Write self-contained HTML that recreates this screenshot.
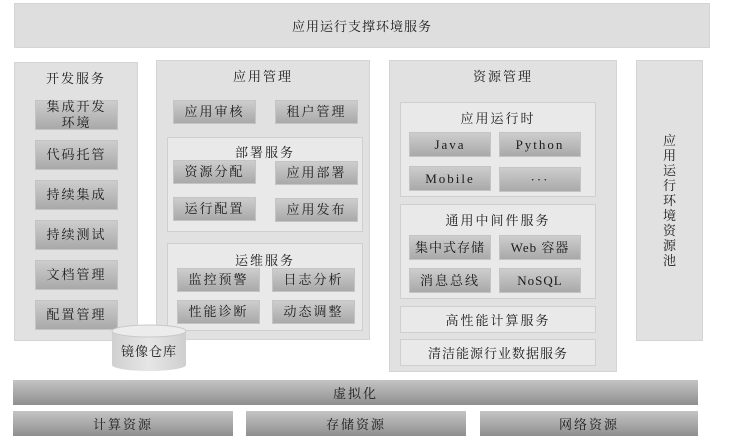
<!DOCTYPE html>
<html><head><meta charset="utf-8"><style>
body{margin:0;width:733px;height:445px;background:#fff;position:relative;overflow:hidden;font-family:"Liberation Serif","Noto Serif CJK SC",serif;color:#1a1a1a}
div{position:absolute;box-sizing:border-box}
.p{background:#e1e1e1;border:1px solid #d4d4d4}
.s{background:#e9e9e9;border:1px solid #cfcfcf}
.i{background:linear-gradient(#cdcdcd,#a9a9a9);border:1px solid #c4c4c4;display:flex;align-items:center;justify-content:center;font-size:13px;letter-spacing:2px;text-align:center;line-height:16px}
.t{font-size:13px;text-align:center;letter-spacing:2px;width:100%;left:0}
.b{background:linear-gradient(#c4c4c4,#8f8f8f);display:flex;align-items:center;justify-content:center;font-size:13px;letter-spacing:2px}
</style></head><body>
<div class="p" style="left:14px;top:3px;width:696px;height:45px;display:flex;align-items:center;justify-content:center;font-size:13px;letter-spacing:1px;background:#dedede">应用运行支撑环境服务</div>

<div class="p" style="left:14px;top:62px;width:124px;height:279px"><div class="t" style="top:5px">开发服务</div></div>
<div class="i" style="left:35px;top:100px;width:83px;height:30px">集成开发<br>环境</div>
<div class="i" style="left:35px;top:140px;width:83px;height:30px">代码托管</div>
<div class="i" style="left:35px;top:180px;width:83px;height:30px">持续集成</div>
<div class="i" style="left:35px;top:220px;width:83px;height:30px">持续测试</div>
<div class="i" style="left:35px;top:260px;width:83px;height:30px">文档管理</div>
<div class="i" style="left:35px;top:300px;width:83px;height:30px">配置管理</div>

<div class="p" style="left:156px;top:60px;width:214px;height:280px"><div class="t" style="top:5px">应用管理</div></div>
<div class="i" style="left:173px;top:100px;width:83px;height:24px">应用审核</div>
<div class="i" style="left:275px;top:100px;width:83px;height:24px">租户管理</div>
<div class="s" style="left:167px;top:137px;width:196px;height:95px"><div class="t" style="top:4px">部署服务</div></div>
<div class="i" style="left:173px;top:160px;width:83px;height:24px">资源分配</div>
<div class="i" style="left:275px;top:161px;width:83px;height:24px">应用部署</div>
<div class="i" style="left:173px;top:197px;width:83px;height:24px">运行配置</div>
<div class="i" style="left:275px;top:198px;width:83px;height:24px">应用发布</div>
<div class="s" style="left:167px;top:243px;width:196px;height:88px"><div class="t" style="top:6px">运维服务</div></div>
<div class="i" style="left:177px;top:268px;width:83px;height:24px">监控预警</div>
<div class="i" style="left:272px;top:268px;width:83px;height:24px">日志分析</div>
<div class="i" style="left:177px;top:300px;width:83px;height:24px">性能诊断</div>
<div class="i" style="left:272px;top:300px;width:83px;height:24px">动态调整</div>

<svg style="position:absolute;left:110px;top:323px" width="78" height="50">
<defs><linearGradient id="g" x1="0" x2="1"><stop offset="0" stop-color="#d0d0d0"/><stop offset=".5" stop-color="#e6e6e6"/><stop offset="1" stop-color="#cfcfcf"/></linearGradient></defs>
<path d="M2 8 L2 42 A37 6 0 0 0 76 42 L76 8 Z" fill="url(#g)"/>
<ellipse cx="39" cy="8" rx="37" ry="6" fill="#ececec" stroke="#c8c8c8"/>
<text x="39" y="33" text-anchor="middle" font-size="13" fill="#1a1a1a" font-family="Liberation Serif,Noto Serif CJK SC,serif" letter-spacing="1">镜像仓库</text></svg>

<div class="p" style="left:389px;top:60px;width:228px;height:312px"><div class="t" style="top:5px">资源管理</div></div>
<div class="s" style="left:400px;top:102px;width:196px;height:95px"><div class="t" style="top:5px">应用运行时</div></div>
<div class="i" style="left:409px;top:132px;width:82px;height:25px">Java</div>
<div class="i" style="left:499px;top:132px;width:82px;height:25px">Python</div>
<div class="i" style="left:409px;top:166px;width:82px;height:25px">Mobile</div>
<div class="i" style="left:499px;top:167px;width:82px;height:25px">···</div>
<div class="s" style="left:400px;top:204px;width:196px;height:95px"><div class="t" style="top:5px">通用中间件服务</div></div>
<div class="i" style="left:409px;top:235px;width:82px;height:25px;letter-spacing:1px">集中式存储</div>
<div class="i" style="left:499px;top:235px;width:82px;height:25px;letter-spacing:1px">Web 容器</div>
<div class="i" style="left:409px;top:268px;width:82px;height:25px">消息总线</div>
<div class="i" style="left:499px;top:268px;width:82px;height:25px;letter-spacing:1px">NoSQL</div>
<div class="s" style="left:400px;top:306px;width:196px;height:27px;display:flex;align-items:center;justify-content:center;font-size:13px;letter-spacing:2px">高性能计算服务</div>
<div class="s" style="left:400px;top:339px;width:196px;height:27px;display:flex;align-items:center;justify-content:center;font-size:13px;letter-spacing:1px">清洁能源行业数据服务</div>

<div class="p" style="left:636px;top:60px;width:67px;height:281px;display:flex;align-items:center;justify-content:center;font-size:13px;line-height:15px;text-align:center"><span style="width:14px">应用运行环境资源池</span></div>

<div class="b" style="left:13px;top:380px;width:685px;height:25px">虚拟化</div>
<div class="b" style="left:13px;top:411px;width:220px;height:25px">计算资源</div>
<div class="b" style="left:246px;top:411px;width:220px;height:25px">存储资源</div>
<div class="b" style="left:480px;top:411px;width:218px;height:25px">网络资源</div>
</body></html>
